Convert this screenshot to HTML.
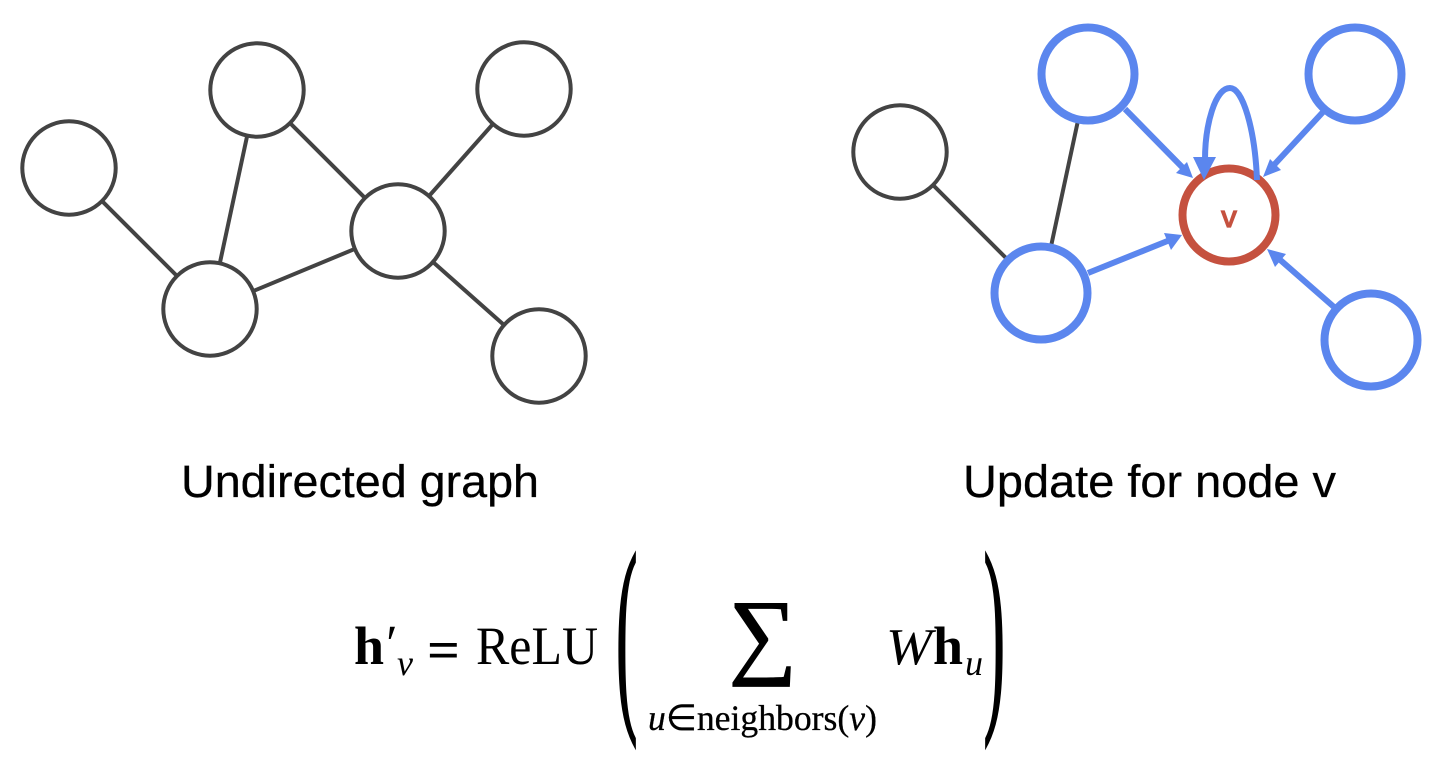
<!DOCTYPE html>
<html><head><meta charset="utf-8"><style>
html,body{margin:0;padding:0;background:#fff;width:1440px;height:758px;overflow:hidden}
svg{display:block}
.g{fill:#fff;stroke:#434343;stroke-width:4}
.b{fill:#fff;stroke:#5b86ee;stroke-width:8}
.gl{stroke:#434343;stroke-width:4;fill:none}
.bl{stroke:#5b86ee;stroke-width:6;fill:none}
.h{fill:#5b86ee}
.t{font-family:"Liberation Sans",sans-serif;font-size:45px;fill:#000;stroke:#000;stroke-width:.3}
.m{font-family:"Liberation Serif",serif;fill:#000}
</style></head><body>
<svg width="1440" height="758" viewBox="0 0 1440 758" xmlns="http://www.w3.org/2000/svg">
<!-- left graph -->
<line class="gl" x1="69" y1="168" x2="210" y2="309"/>
<line class="gl" x1="257" y1="90" x2="210" y2="309"/>
<line class="gl" x1="257" y1="90" x2="398" y2="231"/>
<line class="gl" x1="524" y1="89" x2="398" y2="231"/>
<line class="gl" x1="398" y1="231" x2="539" y2="356"/>
<line class="gl" x1="398" y1="231" x2="210" y2="309"/>
<circle class="g" cx="69" cy="168" r="46.7"/>
<circle class="g" cx="257" cy="90" r="46.7"/>
<circle class="g" cx="398" cy="231" r="46.7"/>
<circle class="g" cx="524" cy="89" r="46.7"/>
<circle class="g" cx="210" cy="309" r="46.7"/>
<circle class="g" cx="539" cy="356" r="46.7"/>
<!-- right graph -->
<line class="gl" x1="900" y1="152" x2="1041" y2="293"/>
<line class="gl" x1="1088" y1="74" x2="1041" y2="293"/>
<circle class="g" cx="900" cy="152" r="46.7"/>
<line class="bl" x1="1125" y1="109" x2="1184" y2="169"/>
<polygon class="h" points="1193,178 1176,173 1187,162"/>
<line class="bl" x1="1323" y1="112" x2="1273" y2="166"/>
<polygon class="h" points="1263,177 1270,159 1281,170"/>
<line class="bl" x1="1088" y1="273" x2="1170" y2="240"/>
<polygon class="h" points="1182,235 1164,233 1171,250"/>
<line class="bl" x1="1334" y1="307" x2="1278" y2="258"/>
<polygon class="h" points="1267,249 1286,254 1275,267"/>
<circle class="b" cx="1088" cy="74" r="46.5"/>
<circle class="b" cx="1355" cy="74" r="46.5"/>
<circle class="b" cx="1041" cy="293" r="46.5"/>
<circle class="b" cx="1371" cy="340" r="46.5"/>
<circle cx="1229" cy="215" r="46.5" fill="#fff" stroke="#c5513f" stroke-width="8"/>
<path class="bl" d="M1257 180 C1255 130 1243 88 1230 88 C1215 88 1205 125 1205 160"/>
<polygon class="h" points="1193,157 1216,157 1204,180"/>
<text x="1229" y="227" text-anchor="middle" font-family="Liberation Sans,sans-serif" font-size="31" stroke="#c5513f" stroke-width="1.3" fill="#c5513f">v</text>
<!-- labels -->
<text class="t" x="181" y="497" textLength="358" lengthAdjust="spacingAndGlyphs">Undirected graph</text>
<text class="t" x="963" y="497" textLength="373" lengthAdjust="spacingAndGlyphs">Update for node v</text>
<!-- formula -->
<text class="m" x="354" y="664" font-size="54" font-weight="700">h</text>
<text class="m" x="383" y="661" font-size="52" font-style="italic">′</text>
<text class="m" x="397" y="675" font-size="36" font-style="italic">v</text>
<text class="m" x="427" y="668" font-size="54" font-weight="700" textLength="33" lengthAdjust="spacingAndGlyphs">=</text>
<text class="m" x="476" y="664" font-size="54" textLength="122" lengthAdjust="spacingAndGlyphs">ReLU</text>
<text class="m" transform="translate(616,702) scale(0.3,1)" font-size="215" stroke="#000" stroke-width="3">(</text>
<text class="m" transform="translate(1005,702) scale(-0.3,1)" font-size="215" stroke="#000" stroke-width="3">(</text>
<text class="m" x="729" y="666" font-size="95" stroke="#000" stroke-width="1.5">∑</text>
<text class="m" x="648" y="730" font-size="36" textLength="229" lengthAdjust="spacingAndGlyphs" stroke="#000" stroke-width=".3"><tspan font-style="italic">u</tspan>∈neighbors(<tspan font-style="italic">v</tspan>)</text>
<text class="m" x="886" y="664" font-size="52" font-style="italic" textLength="46" lengthAdjust="spacingAndGlyphs">W</text>
<text class="m" x="933" y="664" font-size="54" font-weight="700">h</text>
<text class="m" x="965" y="675" font-size="36" font-style="italic">u</text>
</svg>
</body></html>
